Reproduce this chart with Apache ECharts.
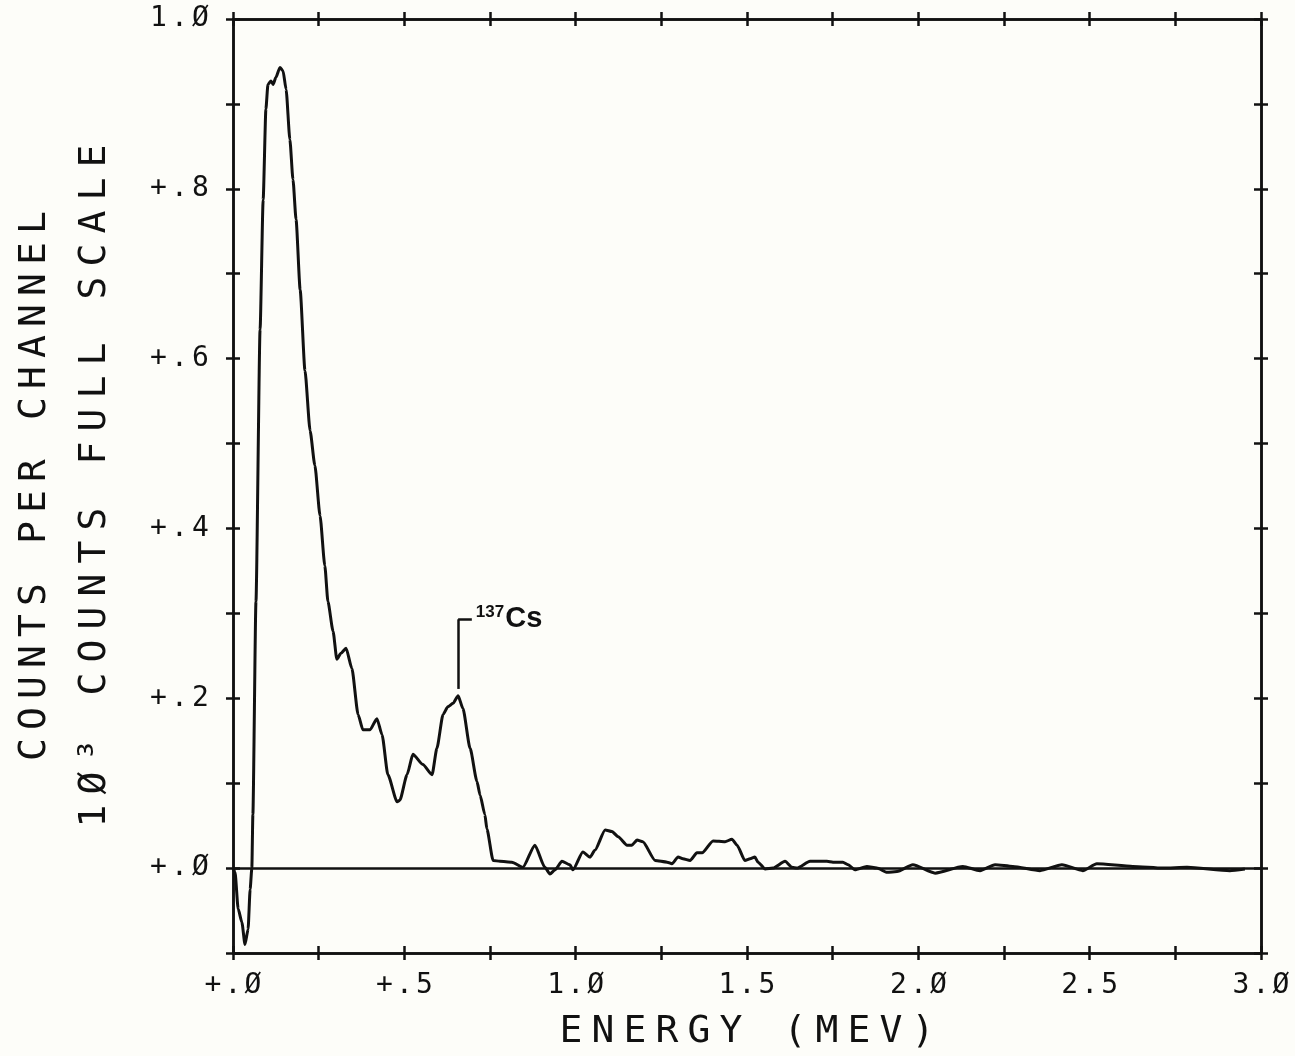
<!DOCTYPE html>
<html>
<head>
<meta charset="utf-8">
<title>Gamma spectrum</title>
<script src="https://cdn.jsdelivr.net/npm/echarts@6/dist/echarts.min.js"></script>
<style>
  html, body { margin: 0; padding: 0; background: #fdfdf9; }
  #chart { width: 1295px; height: 1056px; }
</style>
</head>
<body>
<div id="chart"></div>
<script>
// Pulse-height spectrum: energy (MeV) and counts per channel (10^3 counts full scale)
const energy = [
  0.000, 0.006, 0.015, 0.026, 0.035, 0.044, 0.050, 0.055, 0.058, 0.067,
  0.079, 0.088, 0.096, 0.102, 0.111, 0.117, 0.125, 0.137, 0.146, 0.155,
  0.166, 0.175, 0.184, 0.196, 0.210, 0.225, 0.239, 0.254, 0.268, 0.277,
  0.292, 0.303, 0.315, 0.330, 0.347, 0.365, 0.379, 0.400, 0.420, 0.435,
  0.452, 0.479, 0.487, 0.508, 0.525, 0.554, 0.581, 0.595, 0.613, 0.627,
  0.642, 0.657, 0.671, 0.692, 0.712, 0.721, 0.735, 0.741, 0.759, 0.779,
  0.814, 0.846, 0.881, 0.910, 0.925, 0.940, 0.960, 0.983, 0.992, 1.021,
  1.042, 1.056, 1.086, 1.106, 1.124, 1.150, 1.164, 1.179, 1.196, 1.232,
  1.267, 1.281, 1.299, 1.313, 1.334, 1.354, 1.369, 1.401, 1.436, 1.456,
  1.471, 1.494, 1.509, 1.523, 1.532, 1.553, 1.576, 1.611, 1.631, 1.646,
  1.684, 1.733, 1.751, 1.780, 1.795, 1.815, 1.850, 1.879, 1.909, 1.938,
  1.984, 2.049, 2.130, 2.180, 2.224, 2.276, 2.355, 2.419, 2.480, 2.521,
  2.626, 2.714, 2.784, 2.909, 2.953
];
const counts = [
  0.000, -0.005, -0.048, -0.064, -0.090, -0.072, -0.025, 0.000, 0.063, 0.314,
  0.634, 0.787, 0.894, 0.923, 0.927, 0.923, 0.931, 0.943, 0.939, 0.917,
  0.858, 0.811, 0.764, 0.681, 0.586, 0.515, 0.474, 0.415, 0.356, 0.314,
  0.279, 0.246, 0.253, 0.259, 0.235, 0.181, 0.163, 0.163, 0.176, 0.157,
  0.110, 0.078, 0.080, 0.110, 0.134, 0.122, 0.110, 0.141, 0.181, 0.190,
  0.194, 0.203, 0.188, 0.141, 0.102, 0.086, 0.063, 0.046, 0.009, 0.008,
  0.007, 0.001, 0.027, 0.001, -0.007, -0.002, 0.008, 0.004, -0.002, 0.019,
  0.013, 0.021, 0.045, 0.043, 0.037, 0.027, 0.027, 0.033, 0.031, 0.009,
  0.007, 0.005, 0.013, 0.011, 0.009, 0.018, 0.018, 0.032, 0.031, 0.034,
  0.027, 0.009, 0.011, 0.013, 0.007, -0.001, 0.000, 0.008, 0.001, 0.000,
  0.008, 0.008, 0.007, 0.007, 0.004, -0.002, 0.002, 0.000, -0.005, -0.004,
  0.004, -0.006, 0.002, -0.003, 0.004, 0.002, -0.003, 0.004, -0.003, 0.005,
  0.002, 0.000, 0.001, -0.003, -0.001
];

const xTickLabels = ['+.0', '+.5', '1.0', '1.5', '2.0', '2.5', '3.0'];
const yTickLabels = ['+.0', '+.2', '+.4', '+.6', '+.8', '1.0'];
const xTitle = 'ENERGY (MEV)';
const yTitleLines = ['COUNTS PER CHANNEL', '10³ COUNTS FULL SCALE'];
const peakIsotope = ['137', 'Cs'];

const INK = '#111111';
const MONO = '"DejaVu Sans Mono", "Liberation Mono", monospace';

// Plotter-style zero with a slash
const plotterText = s => s.replace(/0/g, 'Ø');
// Put each character into a fixed-width rich-text cell (wide pen-plotter pitch)
const spread = (s, key) => s.split('').map(ch => '{' + key + '|' + ch + '}').join('');

// Cs-137 photopeak: highest point between 0.55 and 0.75 MeV
let peakIdx = 0;
energy.forEach((e, i) => {
  if (e > 0.55 && e < 0.75 && counts[i] > counts[peakIdx]) peakIdx = i;
});
const leadX = energy[peakIdx];
const leadY1 = counts[peakIdx] + 0.008;
const leadY2 = counts[peakIdx] + 0.09;
const leadX2 = leadX + 0.04;

const tickStyle = { color: INK, width: 2.5 };
const noLabel = { show: false };

function xAxisCfg(position, inside, withLabels) {
  return {
    type: 'value', position: position, min: 0, max: 3, interval: 0.25,
    axisLine: { show: true, onZero: false, lineStyle: { color: INK, width: 2.5 } },
    axisTick: { show: true, inside: inside, length: 7, lineStyle: tickStyle },
    splitLine: { show: false },
    axisLabel: withLabels ? {
      margin: 19,
      formatter: v => {
        const k = Math.round(v / 0.5);
        return Math.abs(v - k * 0.5) < 1e-6 && xTickLabels[k] ? spread(plotterText(xTickLabels[k]), 'k') : '';
      },
      rich: { k: { fontFamily: MONO, fontSize: 28, width: 20, align: 'center', color: INK } }
    } : noLabel
  };
}

function yAxisCfg(position, inside, withLabels) {
  return {
    type: 'value', position: position, min: -0.1, max: 1.0, interval: 0.1,
    axisLine: { show: true, onZero: false, lineStyle: { color: INK, width: 2.5 } },
    axisTick: { show: true, inside: inside, length: 7, lineStyle: tickStyle },
    splitLine: { show: false },
    axisLabel: withLabels ? {
      margin: 22,
      formatter: v => {
        if (v < -1e-6) return '';
        const k = Math.round(v / 0.2);
        return Math.abs(v - k * 0.2) < 1e-6 && yTickLabels[k] ? spread(plotterText(yTickLabels[k]), 'k') : '';
      },
      rich: { k: { fontFamily: MONO, fontSize: 28, width: 21, align: 'center', color: INK } }
    } : noLabel
  };
}

const xBottom = xAxisCfg('bottom', false, true);
xBottom.name = spread(xTitle, 't');
xBottom.nameLocation = 'middle';
xBottom.nameGap = 60;
xBottom.nameTextStyle = {
  rich: { t: { fontFamily: MONO, fontSize: 38, width: 32, align: 'center', color: INK } }
};

const yLeft = yAxisCfg('left', false, true);
yLeft.name = spread(yTitleLines[0], 'a') + '\n' + spread(plotterText(yTitleLines[1]), 'b');
yLeft.nameLocation = 'middle';
yLeft.nameRotate = 90;
yLeft.nameGap = 108;
yLeft.nameTextStyle = {
  rich: {
    a: { fontFamily: MONO, fontSize: 38, width: 31, lineHeight: 60, align: 'center', color: INK },
    b: { fontFamily: MONO, fontSize: 38, width: 33, lineHeight: 60, align: 'center', color: INK }
  }
};

const chart = echarts.init(document.getElementById('chart'), null, { renderer: 'canvas' });
chart.setOption({
  backgroundColor: '#fdfdf9',
  animation: false,
  grid: { left: 233, right: 34, top: 19, bottom: 103, containLabel: false },
  xAxis: [
    xBottom,
    xAxisCfg('bottom', true, false),
    xAxisCfg('top', false, false),
    xAxisCfg('top', true, false)
  ],
  yAxis: [
    yLeft,
    yAxisCfg('left', true, false),
    yAxisCfg('right', false, false),
    yAxisCfg('right', true, false)
  ],
  series: [{
    type: 'line',
    xAxisIndex: 0,
    yAxisIndex: 0,
    data: energy.map((e, i) => [e, counts[i]]),
    showSymbol: false,
    smooth: 0.2,
    smoothMonotone: 'x',
    lineStyle: { color: INK, width: 3 },
    silent: true,
    markLine: {
      silent: true,
      symbol: ['none', 'none'],
      lineStyle: { color: INK, width: 2.5, type: 'solid' },
      label: { show: false },
      data: [
        { yAxis: 0, label: { show: false } },
        [{ coord: [leadX, leadY1] }, { coord: [leadX, leadY2] }],
        [
          {
            coord: [leadX, leadY2],
            label: {
              show: true, position: 'end', distance: 4,
              formatter: '{s|' + peakIsotope[0] + '}{c|' + peakIsotope[1] + '}',
              rich: {
                s: { fontFamily: '"Liberation Sans", Arial, sans-serif', fontWeight: 'bold', fontSize: 17, color: INK, verticalAlign: 'top', lineHeight: 30, padding: [0, 1, 0, 0] },
                c: { fontFamily: '"Liberation Sans", Arial, sans-serif', fontWeight: 'bold', fontSize: 29, color: INK, lineHeight: 30 }
              }
            }
          },
          { coord: [leadX2, leadY2] }
        ]
      ]
    }
  }]
});
</script>
</body>
</html>
